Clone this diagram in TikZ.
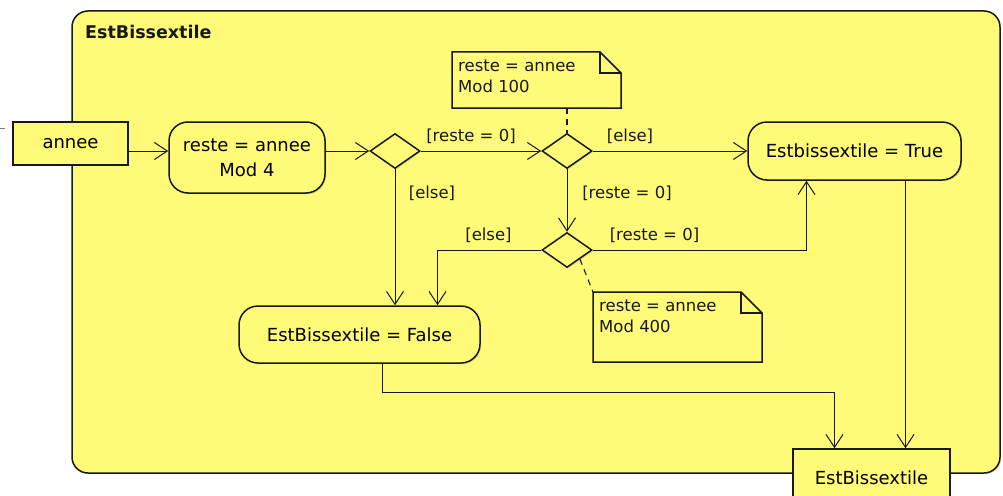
\documentclass[tikz,border=0pt]{standalone}
\usepackage{fontspec}
\setmainfont{DejaVu Sans}
\usetikzlibrary{arrows.meta,shapes.geometric,shadows,calc}
\definecolor{uml}{RGB}{255,251,120}
\definecolor{ink}{RGB}{25,25,20}
\begin{document}
\begin{tikzpicture}[x=1pt,y=-1pt,
  shad/.style={drop shadow={opacity=0.3, shadow xshift=1.2pt, shadow yshift=-1.2pt}},
  base/.style={draw=ink, line width=1.5pt, fill=uml, font=\fontsize{18}{25}\selectfont, inner sep=0pt, shad},
  pin/.style={base, rectangle},
  actbox/.style={base, rounded corners=19pt, align=center},
  dec/.style={base, diamond},
  flow/.style={draw=ink, line width=1pt, -{Straight Barb[length=13pt, width=17pt, line width=1pt]}},
  guard/.style={font=\fontsize{16.5}{20}\selectfont, inner sep=0pt, text=ink},
  notetext/.style={font=\fontsize{16.5}{21}\selectfont, inner sep=0pt, anchor=north west, align=left, text=ink},
  notebox/.style={draw=ink, line width=1.5pt, fill=uml, line join=miter, shad},
  anchorline/.style={draw=ink, line width=1.1pt, dash pattern=on 6pt off 5pt}
]
\useasboundingbox (0,0) rectangle (1003,495);

% stray fragment at the left edge
\draw[gray, line width=1pt] (-2,128) coordinate (g1) -- (5,128) coordinate (g2);

% activity frame
\node[base, rectangle, rounded corners=16pt, minimum width=928pt, minimum height=462pt] (act) at (536,242) {};
\node[font=\bfseries\fontsize{17.5}{20}\selectfont, inner sep=0pt, anchor=west, text=ink] (title) at (85,32) {EstBissextile};

% nodes
\node[pin, minimum width=115pt, minimum height=43pt] (annee) at (70.5,143.5) {annee};
\node[actbox, minimum width=156pt, minimum height=71pt] (mod4) at (247,157.5) {reste = annee\\Mod 4};
\node[dec, minimum width=50pt, minimum height=35pt] (d1) at (395,151) {};
\node[dec, minimum width=50pt, minimum height=35pt] (d2) at (567,151) {};
\node[dec, minimum width=50pt, minimum height=35pt] (d3) at (567,250) {};
\node[actbox, minimum width=213pt, minimum height=58pt] (true) at (854.5,151) {Estbissextile = True};
\node[actbox, minimum width=241pt, minimum height=57pt] (false) at (359.5,334.5) {EstBissextile = False};
\node[pin, minimum width=157pt, minimum height=58pt] (out) at (871.5,478) {EstBissextile};

% notes
\draw[notebox] (452,52) -- (600,52) -- (621,73) -- (621,108) -- (452,108) -- cycle;
\draw[ink, line width=1.5pt, line join=miter] (600,52) -- (600,73) -- (621,73);
\node[notetext] (note1) at (458,60) {reste = annee\\Mod 100};
\coordinate (n1b) at (567,108);

\draw[notebox] (593,292) -- (741,292) -- (762,313) -- (762,362) -- (593,362) -- cycle;
\draw[ink, line width=1.5pt, line join=miter] (741,292) -- (741,313) -- (762,313);
\node[notetext] (note2) at (599,300) {reste = annee\\Mod 400};
\coordinate (n2c) at (593,292);

% anchors of notes
\draw[anchorline] (n1b) -- (d2.north);
\draw[anchorline] (d3.south east) -- (n2c);

% flows
\draw[flow] (annee.east |- d1) -- (mod4.west |- d1);
\draw[flow] (mod4.east |- d1) -- (d1.west);
\draw[flow] (d1.east) -- (d2.west);
\draw[flow] (d2.east) -- (true.west |- d2);
\draw[flow] (d1.south) -- (d1.south |- false.north);
\draw[flow] (d2.south) -- (d3.north);
\draw[flow] (d3.west) -| ([xshift=78pt]false.north);
\draw[flow] (d3.east) -| ([xshift=-48pt]true.south);
\coordinate (turn) at (834.5,392);
\draw[flow] ([xshift=23pt]false.south) |- (turn) -- (turn |- out.north);
\draw[flow] ([xshift=51pt]true.south) -- ([xshift=34pt]out.north);

% guards
\node[guard] (g12) at (471,136) {[reste = 0]};
\node[guard] (g2t) at (630,136) {[else]};
\node[guard] (g1f) at (432,193) {[else]};
\node[guard] (g23) at (627,193) {[reste = 0]};
\node[guard] (g3f) at (488.5,235) {[else]};
\node[guard] (g3t) at (654.5,235) {[reste = 0]};
\end{tikzpicture}
\end{document}
